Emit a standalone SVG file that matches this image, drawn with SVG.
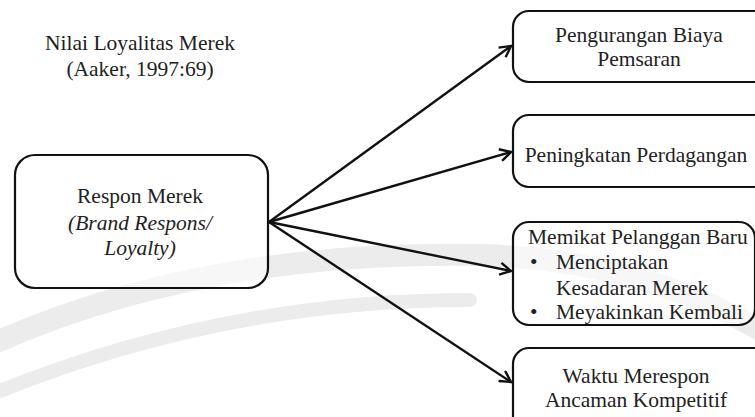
<svg xmlns="http://www.w3.org/2000/svg" width="755" height="417" viewBox="0 0 755 417" font-family="Liberation Serif, DejaVu Serif, serif">
<style>
text{font-family:"Liberation Serif",serif}
.t{font-size:21.5px;fill:#222}
.i{font-style:italic}
.box{fill:#fff;fill-opacity:0.6;stroke:#111;stroke-width:2.2}
.wm{fill:none;stroke:#ececec;stroke-linecap:round}
.c{fill:none;stroke:#111;stroke-width:2.4}
</style>
<defs>
<marker id="ah" markerWidth="14" markerHeight="14" refX="12" refY="7" orient="auto" markerUnits="userSpaceOnUse">
<path d="M1,1 L12,7 L1,13" fill="none" stroke="#111" stroke-width="2.4"/>
</marker>
</defs>
<rect width="755" height="417" fill="#fff"/>
<g id="watermark">
<path class="wm" d="M-10,345 Q200,250 480,255 Q640,260 760,330" stroke-width="22"/>
<path class="wm" d="M-10,395 Q220,300 470,300" stroke-width="14" stroke="#f2f2f2"/>
</g>
<g id="title">
<text class="t" x="140" y="50" text-anchor="middle">Nilai Loyalitas Merek</text>
<text class="t" x="140" y="76" text-anchor="middle">(Aaker, 1997:69)</text>
</g>
<g id="connectors">
<line class="c" x1="269" y1="222" x2="511" y2="46" marker-end="url(#ah)"/>
<line class="c" x1="269" y1="222" x2="511" y2="152" marker-end="url(#ah)"/>
<line class="c" x1="269" y1="222" x2="511" y2="271" marker-end="url(#ah)"/>
<line class="c" x1="269" y1="222" x2="511" y2="382" marker-end="url(#ah)"/>
</g>
<g id="n0">
<rect class="box" x="15" y="155" width="253" height="133" rx="20"/>
<text class="t" x="140" y="203" text-anchor="middle">Respon Merek</text>
<text class="t i" x="140" y="230" text-anchor="middle">(Brand Respons/</text>
<text class="t i" x="140" y="255" text-anchor="middle">Loyalty)</text>
</g>
<g id="n1">
<rect class="box" x="513" y="11" width="260" height="71" rx="16"/>
<text class="t" x="639" y="42" text-anchor="middle">Pengurangan Biaya</text>
<text class="t" x="639" y="66" text-anchor="middle">Pemsaran</text>
</g>
<g id="n2">
<rect class="box" x="513" y="115" width="260" height="72" rx="16"/>
<text class="t" x="636" y="162" text-anchor="middle">Peningkatan Perdagangan</text>
</g>
<g id="n3">
<rect class="box" x="513" y="222" width="242" height="103" rx="16"/>
<text class="t" x="528" y="244">Memikat Pelanggan Baru</text>
<text class="t" x="530" y="269">•</text>
<text class="t" x="556" y="269">Menciptakan</text>
<text class="t" x="556" y="295">Kesadaran Merek</text>
<text class="t" x="530" y="319">•</text>
<text class="t" x="556" y="319">Meyakinkan Kembali</text>
</g>
<g id="n4">
<rect class="box" x="513" y="348" width="260" height="90" rx="16"/>
<text class="t" x="636" y="383" text-anchor="middle">Waktu Merespon</text>
<text class="t" x="636" y="407" text-anchor="middle">Ancaman Kompetitif</text>
</g>
</svg>
